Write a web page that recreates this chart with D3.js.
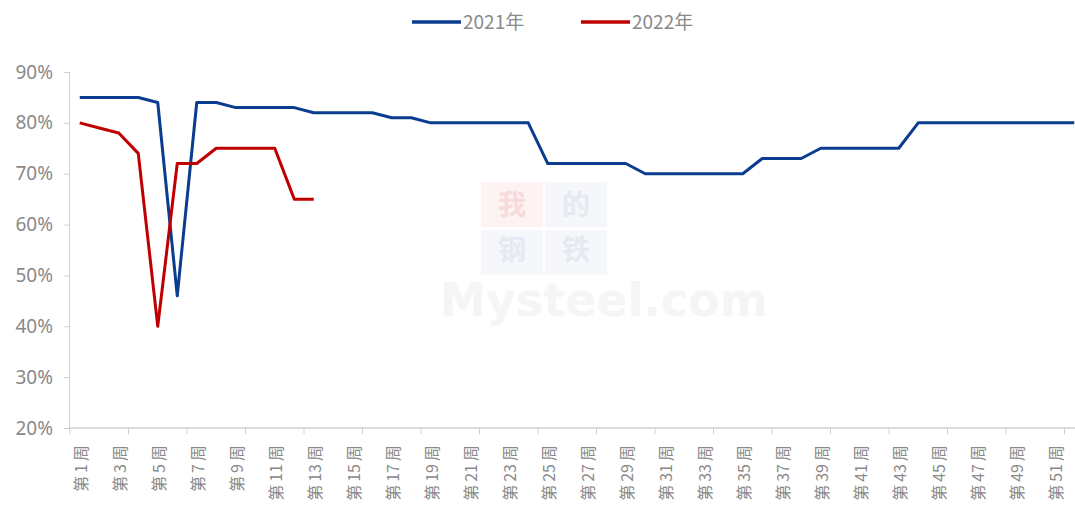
<!DOCTYPE html>
<html>
<head>
<meta charset="utf-8">
<script src="https://cdn.jsdelivr.net/npm/d3@7"></script>
<style>
  body { margin: 0; background: #fff; }
  svg { display: block; font-family: "Noto Sans CJK SC", "Noto Sans", sans-serif; }
</style>
</head>
<body>
<div id="chart"></div>
<script>
// Data
const weekNums = d3.range(1, 53);
const weeks = weekNums.map(n => `第${n}周`);
const values2021 = [85, 85, 85, 85, 84, 46, 84, 84, 83, 83, 83, 83, 82, 82, 82, 82, 81, 81,
  80, 80, 80, 80, 80, 80, 72, 72, 72, 72, 72, 70, 70, 70, 70, 70, 70, 73, 73, 73,
  75, 75, 75, 75, 75, 80, 80, 80, 80, 80, 80, 80, 80, 80];
const values2022 = [80, 79, 78, 74, 40, 72, 72, 75, 75, 75, 75, 65, 65];
const yTicks = [20, 30, 40, 50, 60, 70, 80, 90];
const seriesNames = ["2021年", "2022年"];
const seriesColors = ["#0a3d8f", "#c00000"];

// Configuration
const svgWidth = 1075;
const svgHeight = 507;
const plot = { left: 70, top: 72, bottom: 428, bandWidth: 19.5 };

const svg = d3.select("#chart")
  .append("svg")
  .attr("width", svgWidth)
  .attr("height", svgHeight);

const x = d3.scaleBand()
  .domain(weeks)
  .range([plot.left, plot.left + plot.bandWidth * weeks.length])
  .padding(0);

const y = d3.scaleLinear()
  .domain([20, 90])
  .range([plot.bottom, plot.top]);

// watermark (very faint)
const wm = svg.append("g").attr("class", "watermark");
wm.append("rect").attr("x", 481).attr("y", 182).attr("width", 62).attr("height", 45).attr("fill", "#fdf3f3");
wm.append("rect").attr("x", 545).attr("y", 182).attr("width", 62).attr("height", 45).attr("fill", "#f6f7fb");
wm.append("rect").attr("x", 481).attr("y", 230).attr("width", 62).attr("height", 45).attr("fill", "#f6f7fb");
wm.append("rect").attr("x", 545).attr("y", 230).attr("width", 62).attr("height", 45).attr("fill", "#f6f7fb");
[["我", 512, 215, "#f7dada"], ["的", 576, 215, "#e6e9f2"], ["钢", 512, 260, "#e6e9f2"], ["铁", 576, 260, "#e6e9f2"]]
  .forEach(([t, tx, ty, c]) => {
    wm.append("text").attr("x", tx).attr("y", ty).attr("text-anchor", "middle")
      .style("font-family", "'Noto Sans CJK SC'").style("font-size", "28px").style("font-weight", "bold")
      .attr("fill", c).text(t);
  });
wm.append("text").attr("x", 440).attr("y", 316)
  .style("font-family", "'DejaVu Sans', sans-serif").style("font-size", "46px").style("font-weight", "bold")
  .attr("fill", "#f5f5f5").text("Mysteel.com");

// Axes
const axisColor = "#d0d0d0";
const textColor = "#898989";

const yAxis = svg.append("g")
  .attr("transform", `translate(${plot.left},0)`)
  .call(d3.axisLeft(y).tickValues(yTicks).tickSize(6).tickPadding(11).tickFormat(d => d + "%"));
yAxis.select(".domain").attr("stroke", axisColor).attr("d", `M-0.5,${plot.top}V${plot.bottom}`);
yAxis.selectAll(".tick line").attr("stroke", axisColor);
yAxis.selectAll(".tick text")
  .attr("fill", textColor)
  .style("font-family", "'Noto Sans', sans-serif")
  .style("font-size", "19px");

const xAxis = svg.append("g").attr("transform", `translate(0,${plot.bottom})`);
xAxis.append("line")
  .attr("x1", plot.left).attr("x2", svgWidth)
  .attr("stroke", axisColor).attr("stroke-width", 1.5);

const tickWeeks = weeks.filter((d, i) => i % 3 === 0);
xAxis.selectAll(".xtick")
  .data(tickWeeks)
  .join("line")
  .attr("class", "xtick")
  .attr("x1", d => x(d)).attr("x2", d => x(d))
  .attr("y1", 0).attr("y2", 6)
  .attr("stroke", axisColor);

// x labels every 2nd week, rotated; small gaps around the number like the original
const labelIdx = weekNums.map((n, i) => i).filter(i => i % 2 === 0);
const labels = xAxis.selectAll(".xlabel")
  .data(labelIdx)
  .join("text")
  .attr("class", "xlabel")
  .attr("transform", i => `translate(${x(weeks[i]) + x.bandwidth() / 2 + 7},17) rotate(-90)`)
  .attr("text-anchor", "end")
  .attr("fill", textColor)
  .style("font-size", "16px");
labels.append("tspan").text("第");
labels.append("tspan").attr("dx", 3).text(i => weekNums[i]);
labels.append("tspan").attr("dx", 3).text("周");

// Lines
const line = d3.line()
  .x((d, i) => x(weeks[i]) + x.bandwidth() / 2)
  .y(d => y(d));

[values2021, values2022].forEach((vals, k) => {
  svg.append("path")
    .datum(vals)
    .attr("fill", "none")
    .attr("stroke", seriesColors[k])
    .attr("stroke-width", 3)
    .attr("stroke-linejoin", "round")
    .attr("d", line);
});

// Legend
const legend = svg.append("g").attr("class", "legend");
const legendX = [412, 581];
seriesNames.forEach((name, k) => {
  legend.append("line")
    .attr("x1", legendX[k]).attr("x2", legendX[k] + 49)
    .attr("y1", 22).attr("y2", 22)
    .attr("stroke", seriesColors[k])
    .attr("stroke-width", 3.5);
  legend.append("text")
    .attr("x", legendX[k] + 51)
    .attr("y", 29)
    .attr("fill", textColor)
    .style("font-size", "19px")
    .text(name);
});
</script>
</body>
</html>
